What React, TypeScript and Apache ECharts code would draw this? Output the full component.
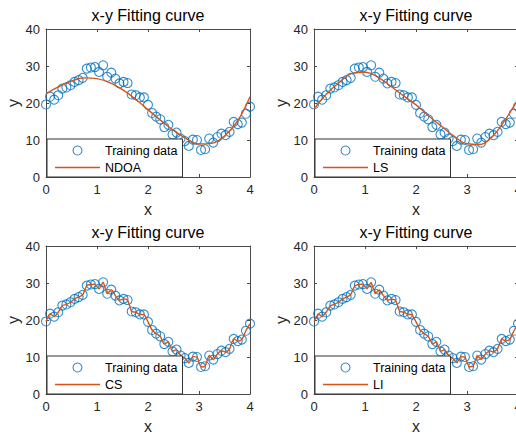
import React, { useEffect, useRef } from 'react';
import * as echarts from 'echarts';

const xData = [
  0, 0.08, 0.16, 0.24, 0.32, 0.4, 0.48, 0.56, 0.64, 0.72,
  0.8, 0.88, 0.96, 1.04, 1.12, 1.2, 1.28, 1.36, 1.44, 1.52,
  1.6, 1.68, 1.76, 1.84, 1.92, 2.0, 2.08, 2.16, 2.24, 2.32,
  2.4, 2.48, 2.56, 2.64, 2.72, 2.8, 2.88, 2.96, 3.04, 3.12,
  3.2, 3.28, 3.36, 3.44, 3.52, 3.6, 3.68, 3.76, 3.84, 3.92, 4.0,
];
const yData = [
  19.6, 21.7, 20.9, 22.1, 23.9, 24.2, 24.8, 25.7, 26.2, 26.8,
  29.3, 29.6, 29.7, 28.4, 30.2, 27.1, 28.2, 26.6, 25.3, 25.7,
  25.4, 22.3, 22.1, 21.5, 21.5, 19.5, 17.3, 16.3, 15.6, 13.5,
  14.1, 11.5, 12.0, 10.4, 9.7, 8.4, 10.1, 10.0, 7.3, 7.5,
  10.4, 9.3, 10.8, 11.7, 11.3, 12.2, 14.9, 14.3, 14.7, 17.1, 19.0,
];

const fitX = [0, 0.25, 0.5, 0.75, 1.0, 1.25, 1.5, 1.75, 2.0, 2.25, 2.5, 2.75, 3.0, 3.25, 3.5, 3.75, 4.0];
const ndoaY = [22.5, 24.4, 25.9, 26.8, 26.6, 25.5, 23.6, 21.1, 18.2, 15.3, 12.6, 10.4, 8.9, 9.1, 11.1, 15.0, 21.7];
const lsY = [18.4, 22.5, 25.6, 28.0, 28.3, 27.0, 24.6, 22.0, 19.5, 16.5, 13.7, 11.0, 9.0, 8.8, 11.0, 15.5, 21.0];

const titles = ['x-y Fitting curve', 'x-y Fitting curve', 'x-y Fitting curve', 'x-y Fitting curve'];
const methods = ['NDOA', 'LS', 'CS', 'LI'];
const xTicks = [0, 1, 2, 3, 4];
const yTicks = [0, 10, 20, 30, 40];

const W = 516;
const H = 436;
const FONT = 'Liberation Sans, Arial, Helvetica, sans-serif';
const BLUE = '#0072BD';
const ORANGE = '#D95319';
const AXIS = '#4a4a4a';
const TEXT = '#262626';

const PW = 204;
const PH = 148;
const grids = [
  { left: 46, top: 29 },
  { left: 314, top: 29 },
  { left: 46, top: 246 },
  { left: 314, top: 246 },
];

function buildOption() {
  const xMin = xTicks[0];
  const xMax = xTicks[xTicks.length - 1];
  const xInt = xTicks[1] - xTicks[0];
  const yMin = yTicks[0];
  const yMax = yTicks[yTicks.length - 1];
  const yInt = yTicks[1] - yTicks[0];

  const xAxis: any[] = [];
  const yAxis: any[] = [];
  const series: any[] = [];
  const legend: any[] = [];
  const title: any[] = [];

  const pts = xData.map((x, i) => [x, yData[i]]);
  const fitPts = (arr: number[]) => fitX.map((x, i) => [x, arr[i]]);
  const curves = [fitPts(ndoaY), fitPts(lsY), pts, pts];

  grids.forEach((g, i) => {
    const base = {
      type: 'value',
      gridIndex: i,
      splitLine: { show: false },
      axisLine: { show: true, onZero: false, lineStyle: { color: AXIS, width: 1 } },
      axisTick: { show: true, inside: true, length: 3, lineStyle: { color: AXIS } },
    };
    xAxis.push({
      ...base,
      min: xMin, max: xMax, interval: xInt,
      position: 'bottom',
      name: 'x',
      nameLocation: 'middle',
      nameGap: 24,
      nameTextStyle: { fontSize: 16, color: TEXT, fontFamily: FONT },
      axisLabel: { show: true, margin: 6, fontSize: 13, color: TEXT, fontFamily: FONT },
    });
    yAxis.push({
      ...base,
      min: yMin, max: yMax, interval: yInt,
      position: 'left',
      name: 'y',
      nameLocation: 'middle',
      nameGap: 25,
      nameTextStyle: { fontSize: 16, color: TEXT, fontFamily: FONT },
      axisLabel: { show: true, margin: 6, fontSize: 13, color: TEXT, fontFamily: FONT },
    });
  });
  grids.forEach((g, i) => {
    const base = {
      type: 'value',
      gridIndex: i,
      splitLine: { show: false },
      axisLabel: { show: false },
      axisLine: { show: true, onZero: false, lineStyle: { color: AXIS, width: 1 } },
      axisTick: { show: true, inside: true, length: 3, lineStyle: { color: AXIS } },
    };
    xAxis.push({ ...base, min: xMin, max: xMax, interval: xInt, position: 'top' });
    yAxis.push({ ...base, min: yMin, max: yMax, interval: yInt, position: 'right' });
  });

  grids.forEach((g, i) => {
    series.push({
      type: 'scatter',
      name: 'Training data',
      xAxisIndex: i,
      yAxisIndex: i,
      data: pts,
      symbol: 'circle',
      symbolSize: 9,
      clip: false,
      itemStyle: { color: 'rgba(0,0,0,0)', borderColor: BLUE, borderWidth: 1.1 },
      z: 2,
    });
    series.push({
      type: 'line',
      name: methods[i],
      xAxisIndex: i,
      yAxisIndex: i,
      data: curves[i],
      symbol: 'none',
      showSymbol: false,
      smooth: i === 3 ? false : i === 2 ? 0.2 : 0.4,
      lineStyle: { color: ORANGE, width: 1.4 },
      itemStyle: { color: ORANGE },
      z: 3,
    });
    legend.push({
      orient: 'vertical',
      left: g.left + 1,
      bottom: H - (g.top + PH),
      data: [
        {
          name: 'Training data',
          icon: 'circle',
          itemStyle: { color: 'rgba(0,0,0,0)', borderColor: BLUE, borderWidth: 1.1 },
        },
        {
          name: methods[i],
          icon: 'path://M0,0L45,0L45,1.4L0,1.4Z',
          itemStyle: { color: ORANGE, borderWidth: 0 },
        },
      ],
      itemWidth: 45,
      itemHeight: 9,
      itemGap: 4,
      padding: [5, 5, 3, 8],
      backgroundColor: '#ffffff',
      borderColor: '#333333',
      borderWidth: 1,
      borderRadius: 0,
      selectedMode: false,
      textStyle: { fontSize: 12.5, color: '#000', fontFamily: FONT },
    });
    title.push({
      text: titles[i],
      left: g.left + PW / 2,
      top: i < 2 ? 7 : 224,
      textAlign: 'center',
      textStyle: { fontSize: 16, fontWeight: 'normal', color: '#000', fontFamily: FONT },
      padding: 0,
    });
  });

  return {
    animation: false,
    backgroundColor: '#ffffff',
    title,
    grid: grids.map((g) => ({
      left: g.left,
      top: g.top,
      width: PW,
      height: PH,
      containLabel: false,
      outerBoundsMode: 'none',
      show: false,
    })),
    xAxis,
    yAxis,
    legend,
    series,
  };
}

export default function App() {
  const ref = useRef<HTMLDivElement>(null);
  useEffect(() => {
    if (!ref.current) return;
    const chart = echarts.init(ref.current, undefined, { renderer: 'svg' });
    chart.setOption(buildOption() as any);
    return () => chart.dispose();
  }, []);
  return (
    <div
      ref={ref}
      style={{ position: 'absolute', left: 0, top: 0, width: W, height: H, background: '#fff' }}
    />
  );
}
